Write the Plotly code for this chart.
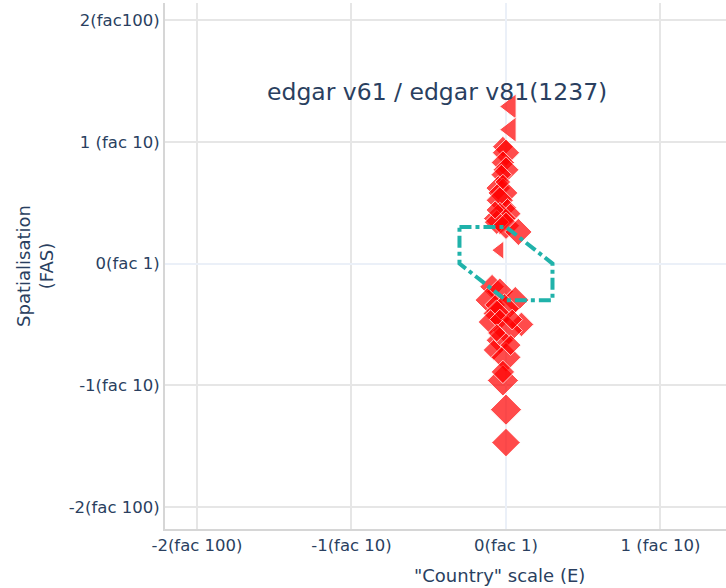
import plotly.graph_objects as go

# ---- data (log10 ratios) ----
diamond_x = [-0.02, 0.00, -0.02, 0.00, -0.03, -0.05, -0.02, -0.04, 0.01, 0.03, -0.04, -0.06, 0.00, 0.08, -0.07, -0.02,
             -0.09, -0.04, -0.12, 0.06, -0.07, -0.01, -0.06, -0.10, 0.10, -0.04, 0.01, 0.04, -0.04, -0.08, 0.00, 0.03,
             -0.06, -0.02, 0.00, 0.00, -0.02]
diamond_y = [0.96, 0.91, 0.83, 0.77, 0.73, 0.62, 0.58, 0.52, 0.46, 0.41, 0.37, 0.34, 0.31, 0.26, 0.44, 0.67,
             -0.19, -0.23, -0.30, -0.30, -0.34, -0.37, -0.41, -0.48, -0.50, -0.46, -0.55, -0.46, -0.63, -0.71, -0.77, -0.67,
             -0.57, -0.96, -1.20, -1.47, -0.89]
diamond_size = [16, 21, 18, 20, 16, 19, 23, 21, 14, 16, 25, 19, 21, 21, 14, 12,
                19, 21, 19, 21, 16, 23, 21, 19, 19, 16, 23, 16, 21, 16, 23, 16,
                14, 24, 24, 22, 18]

triangle_x = [0.03, 0.03, -0.04]
triangle_y = [1.29, 1.10, 0.11]
triangle_size = [22, 22, 16]

# factor-2 agreement region
region_x = [-0.301, 0.0, 0.301, 0.301, 0.0, -0.301, -0.301]
region_y = [0.301, 0.301, 0.0, -0.301, -0.301, 0.0, 0.301]

tick_vals = [-2, -1, 0, 1, 2]
x_tick_text = ["-2(fac 100)", "-1(fac 10)", "0(fac 1)", "1 (fac 10)", "2 (fac 100)"]
y_tick_text = ["-2(fac 100)", "-1(fac 10)", "0(fac 1)", "1 (fac 10)", "2(fac100)"]

title_text = "edgar v61 / edgar v81(1237)"
x_title = '"Country" scale (E)'
y_title = "Spatialisation<br>(FAS)"

FONT = "Verdana, DejaVu Sans, sans-serif"
TXT = "#2a3f5f"

fig = go.Figure()
fig.add_trace(go.Scatter(
    x=diamond_x, y=diamond_y, mode="markers",
    marker=dict(symbol="diamond", size=diamond_size, color="red", opacity=0.7,
                line=dict(color="white", width=1)),
    showlegend=False))
fig.add_trace(go.Scatter(
    x=triangle_x, y=triangle_y, mode="markers",
    marker=dict(symbol="triangle-left", size=triangle_size, color="red", opacity=0.7,
                line=dict(color="white", width=1)),
    showlegend=False))
fig.add_trace(go.Scatter(
    x=region_x, y=region_y, mode="lines",
    line=dict(color="lightseagreen", width=4, dash="dashdot"),
    showlegend=False))

fig.add_annotation(text=title_text, xref="paper", yref="paper", x=0.485, y=0.831,
                   xanchor="center", yanchor="middle",
                   showarrow=False, font=dict(family=FONT, size=23.5, color=TXT))
fig.add_annotation(text=x_title, xref="paper", yref="paper", x=0.597, y=0, yshift=-46,
                   xanchor="center", yanchor="middle", showarrow=False,
                   font=dict(family=FONT, size=18, color=TXT))

axis_common = dict(
    showgrid=True, gridcolor="#E6E6E6", gridwidth=1.5,
    zeroline=True, zerolinecolor="#EBF0F8", zerolinewidth=2,
    showline=True, linecolor="#D6D6D6", linewidth=2,
    tickfont=dict(family=FONT, size=16.5, color=TXT),
    tickvals=tick_vals,
)
fig.update_xaxes(range=[-2.207, 1.424], ticktext=x_tick_text, **axis_common)
fig.update_yaxes(range=[-2.18, 2.14], ticktext=y_tick_text,
                 title=dict(text=y_title, font=dict(family=FONT, size=18, color=TXT), standoff=10),
                 **axis_common)

fig.update_layout(
    width=726, height=588,
    margin=dict(l=165, r=0, t=3, b=59, autoexpand=False),
    plot_bgcolor="white", paper_bgcolor="white",
    font=dict(family=FONT, color=TXT),
)
fig.write_html("out.html", config={"displayModeBar": False},
               post_script="document.body.style.margin='0px';document.body.style.overflow='hidden';")
